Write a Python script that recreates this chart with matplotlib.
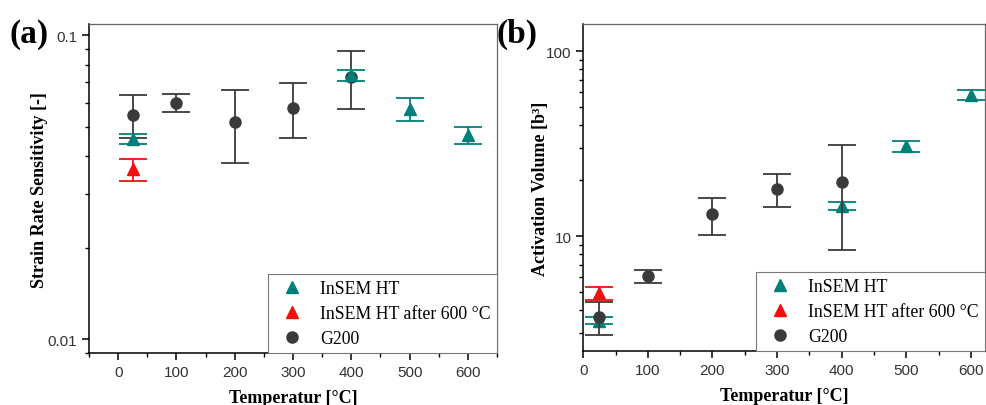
import matplotlib
matplotlib.use("Agg")
import matplotlib.pyplot as plt
from matplotlib.ticker import MultipleLocator, LogLocator, NullFormatter, FixedLocator, FixedFormatter

# (a) strain rate sensitivity
ht_temp = [25, 400, 500, 600]
ht_srs = [0.0455, 0.0739, 0.0572, 0.0470]
ht_srs_err = [0.0018, 0.0030, 0.0050, 0.0030]

ht600_temp = [25]
ht600_srs = [0.0362]
ht600_srs_err = [0.0030]

g200_temp = [25, 100, 200, 300, 400]
g200_srs = [0.0548, 0.0599, 0.0519, 0.0578, 0.0730]
g200_srs_err = [0.0090, 0.0041, 0.0140, 0.0120, 0.0158]

# (b) activation volume
ht_vol = [3.48, 14.6, 30.6, 58.0]
ht_vol_err = [0.15, 0.75, 2.0, 3.5]

ht600_vol = [4.91]
ht600_vol_err = [0.38]

g200_vol = [3.66, 6.07, 13.1, 18.0, 19.7]
g200_vol_err = [0.75, 0.47, 3.0, 3.7, 11.3]

labels = ["InSEM HT", "InSEM HT after 600 °C", "G200"]

teal = "#00807a"
red = "#f01010"
grey = "#3a3a3a"

serif = "Liberation Serif"
sans = "Liberation Sans"

plt.rcParams["font.family"] = sans
plt.rcParams["axes.linewidth"] = 1.1

fig = plt.figure(figsize=(9.87, 4.06), dpi=100)

ax_a = fig.add_axes([0.0902, 0.128, 0.4134, 0.810])
ax_b = fig.add_axes([0.591, 0.133, 0.407, 0.805])


def draw(ax, ht_y, ht_e, ht600_y, ht600_e, g_y, g_e, ht_on_top):
    z_ht = 4 if ht_on_top else 2
    z_g = 2 if ht_on_top else 4
    h1 = ax.errorbar(ht_temp, ht_y, yerr=ht_e, fmt="^", color=teal,
                     markersize=8, capsize=10, elinewidth=1.3, capthick=1.3,
                     zorder=z_ht)
    h2 = ax.errorbar(ht600_temp, ht600_y, yerr=ht600_e, fmt="^", color=red,
                     markersize=8, capsize=10, elinewidth=1.3, capthick=1.3,
                     zorder=3)
    h3 = ax.errorbar(g200_temp, g_y, yerr=g_e, fmt="o", color=grey,
                     markersize=8, capsize=10, elinewidth=1.3, capthick=1.3,
                     zorder=z_g)
    leg = ax.legend([h1[0], h2[0], h3[0]], labels, loc="lower right",
                    bbox_to_anchor=(1.0, 0.0), borderaxespad=0,
                    fancybox=False, framealpha=1, edgecolor="#777777",
                    prop={"family": serif, "size": 12.8},
                    handletextpad=0.6, labelspacing=0.45, borderpad=0.35)
    leg.get_frame().set_linewidth(0.8)

    ax.set_yscale("log")
    ax.xaxis.set_major_locator(MultipleLocator(100))
    ax.xaxis.set_minor_locator(MultipleLocator(50))
    ax.yaxis.set_minor_locator(LogLocator(base=10, subs=range(2, 10)))
    ax.yaxis.set_minor_formatter(NullFormatter())
    ax.tick_params(which="major", direction="out", length=5, width=1.1,
                   labelsize=11, labelcolor="#333333")
    ax.tick_params(which="minor", direction="out", length=3, width=1.0)
    for side in ["top", "right"]:
        ax.spines[side].set_color("#666666")
        ax.spines[side].set_linewidth(0.9)
    ax.set_xlabel("Temperatur [°C]", family=serif, fontweight="bold",
                  fontsize=13, labelpad=7)


draw(ax_a, ht_srs, ht_srs_err, ht600_srs, ht600_srs_err,
     g200_srs, g200_srs_err, ht_on_top=True)
ax_a.set_xlim(-50, 650)
ax_a.set_ylim(0.009, 0.1087)
ax_a.yaxis.set_major_locator(FixedLocator([0.01, 0.1]))
ax_a.yaxis.set_major_formatter(FixedFormatter(["0.01", "0.1"]))
ax_a.set_ylabel("Strain Rate Sensitivity [-]", family=serif,
                fontweight="bold", fontsize=13, labelpad=0)

draw(ax_b, ht_vol, ht_vol_err, ht600_vol, ht600_vol_err,
     g200_vol, g200_vol_err, ht_on_top=False)
ax_b.set_xlim(0, 622)
ax_b.set_ylim(2.39, 140)
ax_b.yaxis.set_major_locator(FixedLocator([10, 100]))
ax_b.yaxis.set_major_formatter(FixedFormatter(["10", "100"]))
ax_b.set_ylabel("Activation Volume [b³]", family=serif,
                fontweight="bold", fontsize=13, labelpad=-2)

fig.text(0.010, 0.915, "(a)", family=serif, fontweight="bold", fontsize=24,
         va="center", ha="left")
fig.text(0.503, 0.915, "(b)", family=serif, fontweight="bold", fontsize=24,
         va="center", ha="left")

fig.savefig("out.png", dpi=100)
plt.close(fig)
